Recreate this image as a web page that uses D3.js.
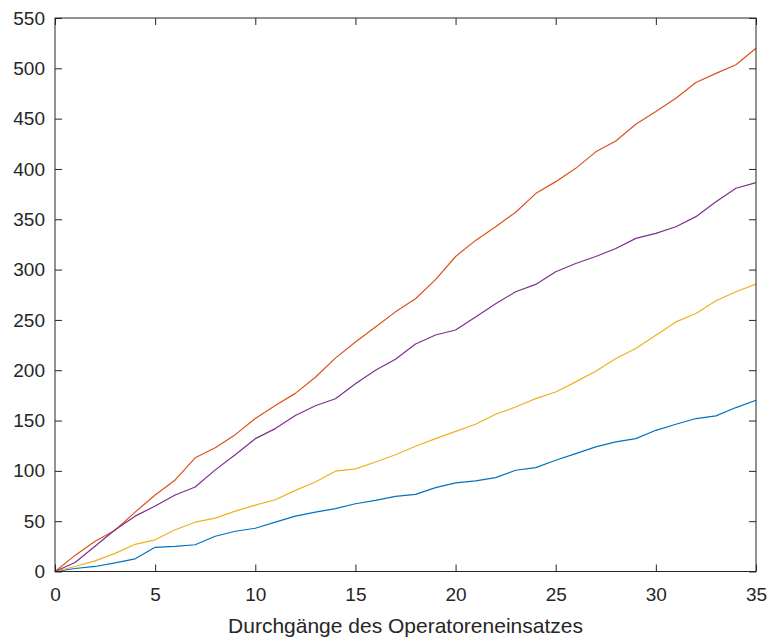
<!DOCTYPE html>
<html>
<head>
<meta charset="utf-8">
<script src="https://cdn.jsdelivr.net/npm/d3@7"></script>
<style>
  html, body { margin: 0; padding: 0; background: #fff; }
  svg { display: block; }
</style>
</head>
<body>
<svg id="chart" width="771" height="642"></svg>
<script>
const xValues = d3.range(0, 36);
const seriesBlue = [0,3,5,8.5,12.6,24,25,26.6,35,40,43, 49,55,59,62.4,67.3,70.7,74.6,76.6,83.3,88, 90,93.3,100.6,103.2,110.5,117.1,123.8,128.8,132,140.3,146.3,152,154.6,162.9,170.2];
const seriesOrange = [0,16,30,41,59,76,91,113,123,136,152, 165,177,193,212,228,243,258,271,290,313, 329,342.6,357,375.5,387.4,400.6,417,427.8,444.4,457,470.3,485.9,495,503.5,520];
const seriesYellow = [0,5,10.5,18,27,31.5,41.5,49,53,60,66, 71.3,80.6,89,99.7,102,108.8,116,124.4,132,139.3, 146.3,156.2,163.5,171.8,178.4,188.4,199,211.6,221.6,234.8,248,256.4,269,278,285.6];
const seriesPurple = [0,9,25,41.5,55,65,76,84,101,116,132, 142,155,164.7,171.7,186.6,200,211,226,235,240, 253,266,278,285.3,297.8,306,313,321,331,336,342.6,352.6,367.5,380.8,386.4];
const xTicks = [0,5,10,15,20,25,30,35];
const yTicks = [0,50,100,150,200,250,300,350,400,450,500,550];
const xLabel = "Durchgänge des Operatoreneinsatzes";

const series = [
  {values: seriesBlue, color: "#0072BD"},
  {values: seriesOrange, color: "#D95319"},
  {values: seriesYellow, color: "#EDB120"},
  {values: seriesPurple, color: "#7E2F8E"}
];

const svg = d3.select("#chart");
const L = 55, R = 756, T = 18, B = 571.5;
const x = d3.scaleLinear().domain([0, 35]).range([L, R]);
const y = d3.scaleLinear().domain([0, 550]).range([B, T]);
const axisColor = "#262626";
const font = "Liberation Sans, Arial, Helvetica, sans-serif";
const tickLen = 7;

// lines
const line = d3.line().x((d, i) => x(xValues[i])).y(d => y(d));
series.forEach(s => {
  svg.append("path")
    .datum(s.values)
    .attr("fill", "none")
    .attr("stroke", s.color)
    .attr("stroke-width", 1.2)
    .attr("stroke-linejoin", "round")
    .attr("d", line);
});

// axes
const xAxis = d3.axisBottom(x).tickValues(xTicks).tickSizeInner(-tickLen).tickSizeOuter(0).tickPadding(16);
const yAxis = d3.axisLeft(y).tickValues(yTicks).tickSizeInner(-tickLen).tickSizeOuter(0).tickPadding(10);
const xTop = d3.axisTop(x).tickValues(xTicks).tickSizeInner(-tickLen).tickSizeOuter(0).tickFormat("");
const yRight = d3.axisRight(y).tickValues(yTicks).tickSizeInner(-tickLen).tickSizeOuter(0).tickFormat("");

function style(g) {
  g.select(".domain").remove();
  g.selectAll("line").attr("stroke", axisColor).attr("stroke-width", 1);
  g.selectAll("text").attr("fill", axisColor).style("font-family", font).style("font-size", "19px");
}
svg.append("g").attr("transform", `translate(0,${B})`).call(xAxis).call(style)
  .selectAll("text").attr("dy", "0.71em");
svg.append("g").attr("transform", `translate(${L},0)`).call(yAxis).call(style);
svg.append("g").attr("transform", `translate(0,${T})`).call(xTop).call(style);
svg.append("g").attr("transform", `translate(${R},0)`).call(yRight).call(style);

// box
svg.append("rect")
  .attr("x", L).attr("y", T).attr("width", R - L).attr("height", B - T)
  .attr("fill", "none").attr("stroke", axisColor).attr("stroke-width", 1);

// x label
svg.append("text")
  .attr("x", (L + R) / 2).attr("y", 633)
  .attr("text-anchor", "middle")
  .attr("fill", axisColor)
  .style("font-family", font).style("font-size", "21px")
  .text(xLabel);
</script>
</body>
</html>
